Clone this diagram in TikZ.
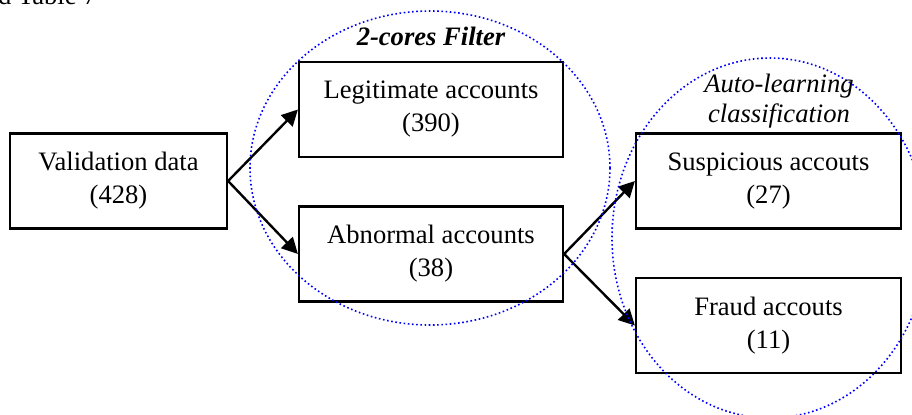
\documentclass[tikz,border=0pt]{standalone}
\usepackage{fontspec}
\setmainfont{Liberation Serif}
\usetikzlibrary{arrows.meta}

\begin{document}
\begin{tikzpicture}[
  x=0.5pt, y=-0.5pt,
  every node/.style={font=\fontsize{13.3}{16.5}\selectfont},
  box/.style={draw, line width=1.1pt, align=center, inner sep=0pt,
              minimum width=#1, minimum height=47.5pt},
  box/.default=132pt,
  link/.style={line width=1.2pt, -{Triangle[length=8pt, width=8pt]}},
  group/.style={draw=blue, line width=0.8pt, dash pattern=on 0.8pt off 1.3pt},
]
\useasboundingbox (0,0) rectangle (912,414);

% running text of the page above the figure
\node[anchor=base east, inner sep=0pt] (pagetext) at (97,4) {nd Table 7};

% boxes
\node[box=108.5pt] (val)   at (118.5,181)   {Validation data\\(428)};
\node[box]         (legit) at (431,109.5)   {Legitimate accounts\\(390)};
\node[box]         (abn)   at (431,254)     {Abnormal accounts\\(38)};
\node[box=132.5pt] (susp)  at (768.5,181)   {Suspicious accouts\\(27)};
\node[box=132.5pt] (fraud) at (768.5,325.5) {Fraud accouts\\(11)};

% connectors
\draw[link] (val.east) -- (legit.west);
\draw[link] (val.east) -- (abn.west);
\draw[link] (abn.east) -- (susp.west);
\draw[link] (abn.east) -- (fraud.west);

% dotted groupings
\draw[group] (430,168) ellipse [x radius=90pt, y radius=78.5pt];
\draw[group] (770,238) ellipse [x radius=79pt, y radius=90pt];

% group titles
\node[anchor=base, inner sep=0pt, font=\fontsize{13.3}{16.5}\selectfont\bfseries\itshape]
  (filtertitle) at (431,45) {2-cores Filter};
\node[anchor=base, inner sep=0pt, font=\fontsize{13.3}{16.5}\selectfont\itshape]
  (classtitleA) at (779,92) {Auto-learning};
\node[anchor=base, inner sep=0pt, font=\fontsize{13.3}{16.5}\selectfont\itshape]
  (classtitleB) at (779,122) {classification};
\end{tikzpicture}
\end{document}
